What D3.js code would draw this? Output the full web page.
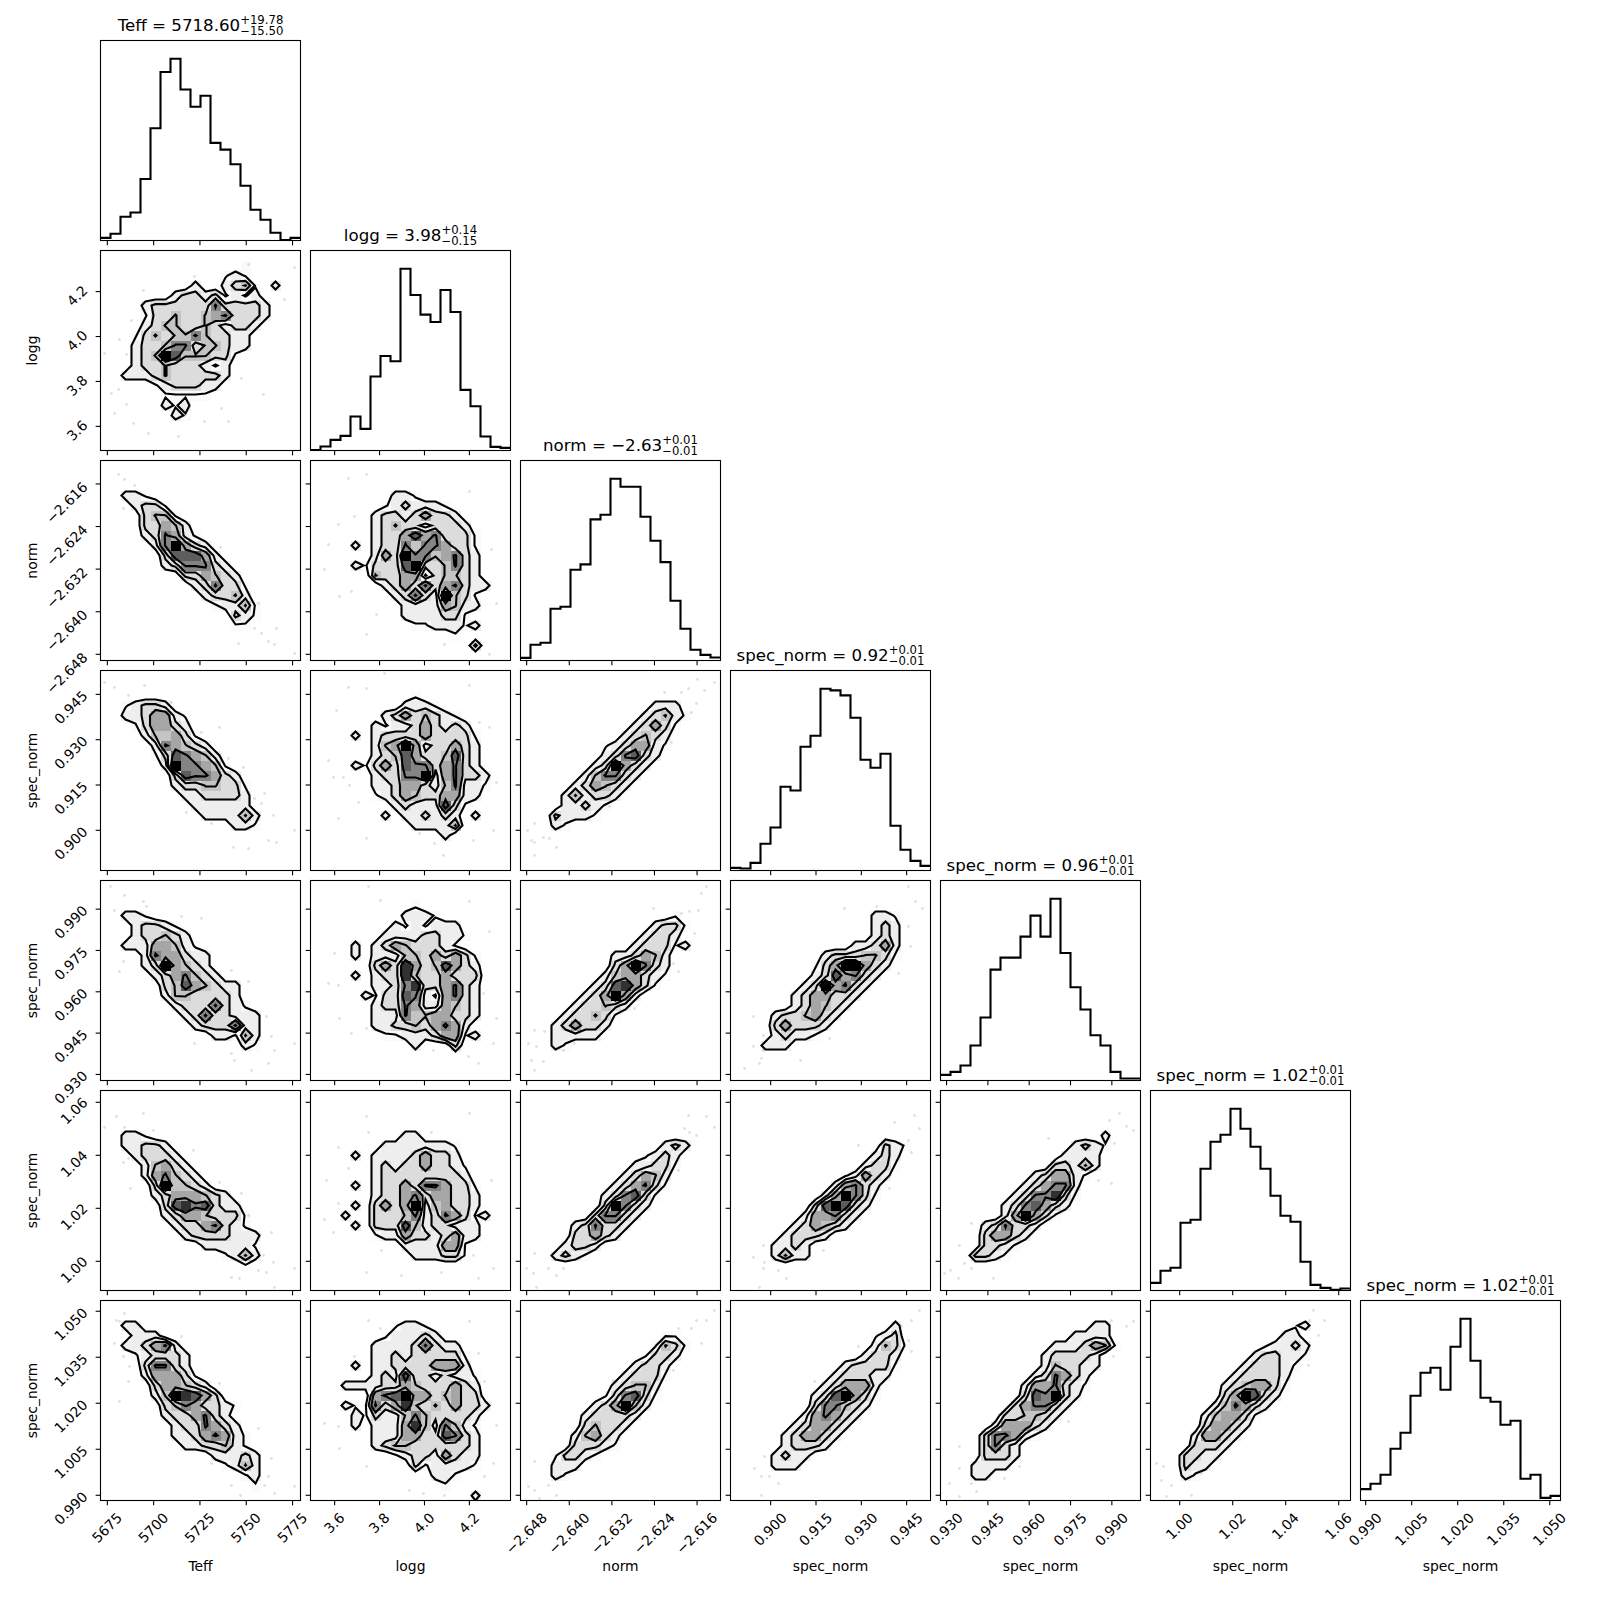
<!DOCTYPE html>
<html><head><meta charset="utf-8">
<script src="https://cdn.jsdelivr.net/npm/d3@7"></script>
<style>html,body{margin:0;background:#fff}svg{display:block}text{font-family:"DejaVu Sans";fill:#000}</style>
</head><body><svg id="c" width="1600" height="1600"></svg>
<script>
const labels=["Teff","logg","norm","spec_norm","spec_norm","spec_norm","spec_norm"];
const titleValues=["5718.60","3.98","−2.63","0.92","0.96","1.02","1.02"];
const titlePlus=["+19.78","+0.14","+0.01","+0.01","+0.01","+0.01","+0.01"];
const titleMinus=["−15.50","−0.15","−0.01","−0.01","−0.01","−0.01","−0.01"];
const ranges=[[5671.3,5779.3],[3.4925,4.383],[-2.64916,-2.6116],[0.8867,0.9529],[0.9278,1.0004],[0.98898,1.06445],[0.9883,1.0535]];
const tickValues=[[5675,5700,5725,5750,5775],[3.6,3.8,4.0,4.2],[-2.648,-2.64,-2.632,-2.624,-2.616],[0.9,0.915,0.93,0.945],[0.93,0.945,0.96,0.975,0.99],[1.0,1.02,1.04,1.06],[0.99,1.005,1.02,1.035,1.05]];
const tickLabels=[["5675","5700","5725","5750","5775"],["3.6","3.8","4.0","4.2"],["−2.648","−2.640","−2.632","−2.624","−2.616"],["0.900","0.915","0.930","0.945"],["0.930","0.945","0.960","0.975","0.990"],["1.00","1.02","1.04","1.06"],["0.990","1.005","1.020","1.035","1.050"]];
const hist0=[8,20,71,84,184,336,504,544,452,400,433,292,272,228,164,92,62,23,1,8];
const hist1=[1,12,32,44,102,65,222,284,268,546,467,408,386,482,416,182,133,42,11,8];
const hist2=[8,47,53,155,161,272,288,423,437,545,521,521,431,359,295,179,95,32,17,9];
const hist3=[8,6,23,80,129,251,240,371,404,545,540,525,458,332,308,350,134,62,29,14];
const hist4=[17,26,45,105,189,333,369,369,432,495,432,546,383,280,213,136,105,26,6,6];
const hist5=[23,59,68,203,212,365,446,467,545,485,431,365,284,224,206,86,17,8,2,6];
const hist6=[34,50,77,155,203,314,383,398,332,461,545,419,308,296,227,239,65,77,8,14];
const hists=[hist0,hist1,hist2,hist3,hist4,hist5,hist6];
// 2D histograms: one string per row from the top, "startColumn:digits" with counts on a 0-9 scale
const P10=["","14:1","12:121","9:200234102","7:233231212","4:2333333633332","4:1334334563332","4:234433432332","3:134344643322","3:233466344322","3:23497444331","3:2334333212","2:22234333332","5:1233322","6:11111","6:2120","7:21"];
const P20=["","","","2:221","3:2331","4:3441","4:33542","4:236521","5:269532","6:377752","6:2366632","8:335432","9:236331","10:23342","11:12241","13:321","13:11"];
const P21=["","","","8:221","7:1232221","6:233235332","6:2343323332","6:23357563331","4:2023364665331","6:25396645632","4:2133379334632","6:43355134432","7:23536356322","8:236329431","9:22225422","9:2222331","10:1122212","14:1","16:3"];
const P30=["","","","2:12332","2:2235521","3:135532","4:244531","5:265432","5:1376542","6:2966541","7:3766532","7:23344331","8:2233332","9:222222","10:222242","13:221"];
const P31=["","","10:1","9:2221","7:23534321","6:2122353232","4:2023333533331","6:24595233532","6:23475334732","4:2135376635632","6:233669256332","6:223553246221","6:12354335522","8:23222731","7:2022323202","10:22224","13:2"];
const P40=["","","","2:221","3:23321","3:233432","2:22255421","4:2655322","4:2395432","5:2356432","6:34754322","6:24433332","7:23336321","8:23633222","9:2333622","11:22142","14:21"];
const P41=["","","10:1","9:2221","8:2121222","7:222233221","4:20235433321","4:2022244353531","6:35385347532","4:2023384335333","6:22368335632","5:213376215632","6:23365225432","6:22264455332","6:2233435652","7:1122235512","10:20003"];
const P50=["","","","","2:221","2:22332","3:23332","4:24532","4:256432","5:394432","5:23555432","6:37867322","6:235543331","7:23356321","8:23333222","10:222221","12:1242","14:1"];
const P51=["","","","","9:22","7:22222221","4:20222235332","6:2323353321","6:2333333332","4:2023353665331","6:23356355332","4:2035359245332","3:200333462365312","4:2033374233222","6:12253323522","9:2222551","10:222331"];
const P60=["","","2:22","3:222","2:223562","3:123332","4:36632","4:255531","5:355432","5:2498753","6:34653321","6:2335632","7:2336532","7:22356521","8:2233421","11:22232","12:1242","14:12","15:1"];
const P61=["","","8:1221","7:122232","6:222236322","6:2232333331","4:202233335552","6:23273323221","3:22223354333532","6:56795534533","3:211635843435332","4:2132246433332","4:2022258426421","6:22255337632","6:23443333332","8:123325322","10:3122221","12:221","13:1","16:2"];
const P32=["","","","13:222","12:23421","11:23531","10:23432","8:1235521","8:236732","7:239532","6:246632","5:235432","4:242332","4:22321","3:32221","3:21"];
const P42=["","","","15:1","13:2331","12:2332","11:233312","9:223542","9:359632","8:2455321","7:2378531","6:235952","5:233432","4:233431","3:235332","3:22222","3:21"];
const P43=["","","","14:221","14:232","14:232","12:22352","9:23334431","8:13599532","8:2375632","7:2395632","6:2355332","6:235432","4:2334532","4:353332","4:23221","3:222"];
const P52=["","","","","","14:232","12:1232","11:22331","10:23542","9:235631","8:236731","8:39632","7:36632","5:236332","5:33532","4:2332","3:2321"];
const P53=["","","","","","15:321","14:232","13:2331","11:12532","10:25632","9:259631","8:379732","7:255632","6:235432","5:23332","4:2232","4:2422"];
const P54=["","","","","16:2","13:2321","12:2222","11:33242","9:235521","8:235662","7:2366831","6:2367532","6:259531","4:236332","4:35532","4:3321","3:3321"];
const P62=["","","","14:11","13:1431","12:1332","11:2332","10:23331","9:23442","8:136731","7:235942","6:233332","6:34332","5:24532","5:33321","3:13321","3:222","3:21"];
const P63=["","","16:2","14:123","14:2431","13:2332","11:233331","10:233322","9:235552","8:2379531","8:366432","7:256532","6:235532","5:235532","5:23332","4:2322","4:222"];
const P64=["","","15:22","13:2222","11:2223541","10:233332","10:243322","9:236532","8:2556321","8:376932","7:356632","6:334432","5:255532","4:366521","4:3632","4:3332","3:2222","3:22"];
const P65=["","","14:12","13:22","11:12232","10:233221","9:233321","8:233332","7:2345531","7:359732","6:246532","5:245531","5:35532","4:25532","4:3332","3:3322","3:322","3:21"];
// samples outside the contours, in bin units: x,y,x,y,...
const S10=[.4,10.3,1.9,8.9,2.6,10.4,3.1,7,1.1,14.3,1.8,13.9,4.6,13,2.6,15.4,1.4,16.3,3.3,17.3,4.8,18.3,10.4,17.1,12.8,17.1,14.1,12.8,16.3,14.4,19.4,1.7,14.8,1.4,18.4,4.9,9.4,2.6,4.3,4,12.1,15.8,7.8,18.6];
const S20=[1.8,1.4,2.4,1.9,2.8,4.1,2.3,4.8,15.4,16.8,16.1,17.3,16.8,18.1,17.4,18.4,13.8,18.3,17.6,16.8,19.4,19.3,15.8,14.3,3.4,2.5,12,8.7];
const S21=[1.8,8.4,2.8,6.4,3.8,1.8,5.6,1.4,1.4,10.9,2.9,13.6,4.1,13.1,5.6,17.4,18.1,8.9,18.6,14.3,13.4,18.4,4.4,5.6,15.9,3.1,17.9,19.4,6.6,15.4];
const S30=[.4,1.2,1.4,1.7,4.4,1.5,2.8,2.5,7.1,3.2,10.1,6.2,11.9,5.7,12.8,8.8,14.3,9.7,15.4,12.8,16.1,13.3,17.3,14.5,16.8,17,17.6,17.2,19.4,16,13.3,17.7,11.1,15.3,8.6,14.2,16.4,12.3,14.8,17.8];
const S31=[3.8,1.7,5.6,1.8,7.4,.3,2.6,4,1.8,9,2.3,10.7,3.3,10.7,3.9,11.5,2.8,14.8,4.8,13.2,5.6,16.8,10.9,16.3,13.3,18.5,16.3,17,18.3,16,16.9,5.2,17.9,5.7,15.9,1.5,12.4,17.3,18.6,11.2];
const S40=[1,.6,1.4,3,2.4,1.5,4.3,2.1,4.6,2.6,2.3,8.1,1.9,9.1,10.1,3.8,8.1,3.6,13.1,9,14.8,10.1,16.6,13.6,17.1,15.6,19.4,16.3,13.1,17.3,17.4,17,15.1,19,16.8,18.3,13.4,18,9.4,16.3];
const S41=[5.8,.6,7,2,2.4,7.3,1.8,10.3,2.8,10.5,2.9,13.8,4.1,15.3,5.6,14.8,17.9,5.1,17.3,11.3,18.6,13.8,15.8,17.6,16.8,18.3,12.3,17,18.3,16.3,15.9,2.1];
const S50=[.4,3.7,1.6,2.6,2.4,3.7,4.3,2.3,5.3,4,2.8,6.8,2.3,7.2,3,9.8,9.3,6,11.9,9.2,14.1,10.3,14.8,12.5,17.1,14.2,16.3,16.5,17.3,17.2,15.8,18,16.6,18.2,19.4,17.8,13.1,18.7,13.9,18.8,17.4,19.7];
const S51=[5.6,2.6,5.8,4.2,2.8,5.7,3.8,7.8,1.6,9,2.8,11.3,1.4,12.9,2.3,14.2,7.1,16,5.6,18.2,9.1,18.5,13.1,18.2,16.3,16.5,18.3,17.8,18.1,9,15.9,2.3,12.1,4.2,16.8,18.8];
const S60=[1.6,2,2.4,1.3,1.9,2.1,1.4,4.3,2.3,5.6,2.9,6.6,2.8,8.1,1.9,10.1,8.1,3.6,11.9,8.3,15.8,12.8,17.1,15.8,16.8,17.6,16.4,18.5,19.4,18.6,17.4,19.3,13.1,18.5,11.1,16.3,14,19.5];
const S61=[5.8,2,7,2.8,4.4,5.6,1.4,12.3,2.8,12.6,2.9,14.8,5.6,16.6,9.9,19,16.8,5.3,18.6,12.5,18.3,16.3,17.4,17.6,13.4,19.5,15.9,2.1,17.4,8.1,11.3,19.3];
const S32=[.7,16,1.1,17,1.4,17.2,2.3,16.7,2.9,16.8,1.4,15.3,3.6,17.7,1.4,18.5,16.1,2.2,16.8,1.8,17.7,.9,18.4,2,19.4,1.2,17.1,4.2,15.1,7.2,8.9,13.6,14.4,2.2,17.6,3.3];
const S42=[1.4,15,2.4,15.1,.8,16.3,1.6,16.6,2.3,18.1,1.1,18,4.3,17,5.4,16.3,1.4,19,16.1,3.3,16.9,3.1,17.8,3,18.6,.6,18.1,1.3,13.3,2.8,17.4,5.3,15.3,8.3,15.8,9.1,11.4,12.8];
const S43=[3.3,15.5,2.3,13.6,3.3,17,3.1,17.8,2.9,18.3,1.4,18.8,7,18,9.9,15.8,17.8,.6,18.5,2.1,19.2,2.8,17.8,4.6,18,6.6,16.8,9.3,11.4,2.8,2.3,16.6,14.6,2.6];
const S52=[1.4,16.3,.6,17.8,1.3,18.3,2.8,17.8,3.6,18.5,1.6,19.7,4.3,17.8,16.8,2.5,18.6,2.6,16.9,4.2,17.6,4.5,19.4,3.7,16.4,3.8,15.8,8,8.6,9.9,6.6,15.8];
const S53=[2.3,16.7,3.3,15.5,3.3,17.8,2.9,19.7,4.8,18,5.6,18.8,18.4,2.5,16.4,3.2,18.9,3.8,17.8,5,18.1,6.2,12.8,5.5,15.9,9.8,9.3,16,3.4,17.2];
const S54=[.4,18.3,1,18,1.9,15.5,3.1,13.3,3.1,17.8,3.6,17,5.3,18.8,1.8,18.8,2.4,17.3,17.9,2.3,16.9,3,18.6,3.6,19.3,4,17.4,5.3,17.1,9.3,10.8,4.8,15.8,9];
const S62=[1.4,16.1,.8,18.6,1.4,19,2.8,18.5,3.6,19.5,1.9,19.8,4.3,17.5,15.8,2.8,17.6,2,19.4,1,18.6,2,17.1,2.8,18.1,4.3,15.3,7,9.3,8,5.8,12.6];
const S63=[2.4,16.8,3.4,15.6,3.1,17.6,3.1,19.5,3.9,17.6,4.8,18.3,18.9,1,18.1,2,17.1,2.6,17.8,4,18.1,5.1,16.6,6.3,12.8,4.6,8.4,8.1,13.8,10];
const S64=[1.9,14.6,1.9,16.8,.9,18.3,1.9,19.6,3.1,18.3,3.6,19.1,6.4,17.8,17.1,2,18.6,2.6,19.3,2.1,17.3,5.6,12.8,12.1,7.9,16.6];
const S65=[.6,16.3,1.3,16.6,2.1,18.5,1.1,18,1.6,19.6,4.1,19.5,5.1,17.3,15.9,2,17.4,2,16.3,1,16.8,3.5,15.8,6.5,5.8,11.6,13.1,8.1];
const grids={"1,0":[P10,S10],"2,0":[P20,S20],"2,1":[P21,S21],"3,0":[P30,S30],"3,1":[P31,S31],"3,2":[P32,S32],"4,0":[P40,S40],"4,1":[P41,S41],"4,2":[P42,S42],"4,3":[P43,S43],"5,0":[P50,S50],"5,1":[P51,S51],"5,2":[P52,S52],"5,3":[P53,S53],"5,4":[P54,S54],"6,0":[P60,S60],"6,1":[P61,S61],"6,2":[P62,S62],"6,3":[P63,S63],"6,4":[P64,S64],"6,5":[P65,S65]};
const contourLevels=[1.2,2.6,3.9,5.8];
const N=20,K=7,SIZE=200,STEP=210,X0=100.5,Y0=40.5,LW=2.1,FW=1.1,TICK=4.86,FS=13.9;

const svg=d3.select("#c");
svg.append("rect").attr("width",1600).attr("height",1600).attr("fill","#fff");
const defs=svg.append("defs");
const xS=ranges.map((r,j)=>d3.scaleLinear().domain(r).range([X0+j*STEP,X0+j*STEP+SIZE]));
const yS=ranges.map((r,i)=>d3.scaleLinear().domain(r).range([Y0+i*STEP+SIZE,Y0+i*STEP]));

function parseGrid(rows){
  const v=new Array(N*N).fill(0);
  rows.forEach((s,r)=>{ if(!s) return; const [c,d]=s.split(":"); [...d].forEach((ch,k)=>{v[r*N+(+c)+k]=+ch;}); });
  return v;
}
function binX(j,g){const r=ranges[j];return r[0]+g*(r[1]-r[0])/N;}
function binY(i,g){const r=ranges[i];return r[1]-g*(r[1]-r[0])/N;}

for(let i=0;i<K;i++)for(let j=0;j<=i;j++){
  const x=xS[j],y=yS[i],g=svg.append("g");
  const left=x.range()[0],top=y.range()[1],id=`clip${i}_${j}`;
  defs.append("clipPath").attr("id",id).append("rect").attr("x",left).attr("y",top).attr("width",SIZE).attr("height",SIZE);
  const body=g.append("g").attr("clip-path",`url(#${id})`);
  if(i===j){
    const h=hists[i],hy=d3.scaleLinear().domain([0,1.1*d3.max(h)]).range([top+SIZE,top]);
    const steps=h.map((v,k)=>[binX(j,k),v]).concat([[binX(j,N),h[N-1]]]);
    body.append("path").attr("fill","none").attr("stroke","#000").attr("stroke-width",LW)
      .attr("d",d3.line().x(d=>x(d[0])).y(d=>hy(d[1])).curve(d3.curveStepAfter)(steps));
  }else{
    const [rows,pts]=grids[`${i},${j}`],vals=parseGrid(rows);
    const proj=d3.geoPath(d3.geoTransform({point(a,b){this.stream.point(x(binX(j,a)),y(binY(i,b)));}}));
    const cs=d3.contours().size([N,N]).thresholds(contourLevels)(vals);
    const dots=[];for(let k=0;k<pts.length;k+=2)dots.push([pts[k],pts[k+1]]);
    body.selectAll("circle").data(dots).join("circle").attr("cx",d=>x(binX(j,d[0]))).attr("cy",d=>y(binY(i,d[1]))).attr("r",1.4).attr("fill","#000").attr("opacity",.12);
    body.append("path").attr("d",proj(cs[0])).attr("fill","#fff");
    const cells=[];vals.forEach((v,k)=>{if(v>0)cells.push({c:k%N,r:Math.floor(k/N),v});});
    body.append("g").attr("shape-rendering","crispEdges").selectAll("rect").data(cells).join("rect")
      .attr("x",d=>x(binX(j,d.c))).attr("y",d=>y(binY(i,d.r))).attr("width",SIZE/N).attr("height",SIZE/N)
      .attr("fill","#000").attr("fill-opacity",d=>Math.pow(d.v/9,1.8));
    body.selectAll("path.ct").data(cs).join("path").attr("class","ct").attr("d",proj).attr("fill","none")
      .attr("stroke","#000").attr("stroke-width",LW).attr("stroke-linejoin","miter");
  }
  g.append("rect").attr("x",left).attr("y",top).attr("width",SIZE).attr("height",SIZE).attr("fill","none").attr("stroke","#000").attr("stroke-width",FW);
  const ax=g.append("g").attr("transform",`translate(0,${top+SIZE})`).call(d3.axisBottom(x).tickValues(tickValues[j]).tickSize(TICK).tickFormat("").offset(0));
  ax.select(".domain").remove();ax.selectAll("line").attr("stroke-width",FW);
  if(i!==j){
    const ay=g.append("g").attr("transform",`translate(${left},0)`).call(d3.axisLeft(y).tickValues(tickValues[i]).tickSize(TICK).tickFormat("").offset(0));
    ay.select(".domain").remove();ay.selectAll("line").attr("stroke-width",FW);
  }
}
function rotated(cx,cy,s){return svg.append("text").attr("transform",`translate(${cx},${cy}) rotate(-45)`).attr("text-anchor","middle").attr("dy",".365em").attr("font-size",FS).text(s);}
function width(s,fs){const t=svg.append("text").attr("font-size",fs).text(s),w=t.node().getComputedTextLength();t.remove();return w;}
for(let p=0;p<K;p++){
  tickValues[p].forEach((v,k)=>{const s=tickLabels[p][k],w=width(s,FS);rotated(xS[p](v)-.5,1500.5+9.7+(w+14)*.3535,s);});
  svg.append("text").attr("x",X0+p*STEP+SIZE/2).attr("y",1571).attr("text-anchor","middle").attr("font-size",FS).text(labels[p]);
  if(p>0){
    tickValues[p].forEach((v,k)=>{const s=tickLabels[p][k],w=width(s,FS);rotated(X0-9.7-1-(w+14)*.3535,yS[p](v)+.5*w-7,s);});
    const cy=Y0+p*STEP+SIZE/2;
    svg.append("text").attr("transform",`translate(37,${cy}) rotate(-90)`).attr("text-anchor","middle").attr("font-size",FS).text(labels[p]);
  }
  const main=`${labels[p]} = ${titleValues[p]}`,cx=X0+p*STEP+SIZE/2,top=Y0+p*STEP,fs=16.67,ss=11.67;
  const mw=width(main,fs),sw=Math.max(width(titlePlus[p],ss),width(titleMinus[p],ss)),x0=cx-(mw+sw)/2;
  svg.append("text").attr("x",x0).attr("y",top-10).attr("font-size",fs).text(main);
  svg.append("text").attr("x",x0+mw).attr("y",top-16.5).attr("font-size",ss).text(titlePlus[p]);
  svg.append("text").attr("x",x0+mw).attr("y",top-6).attr("font-size",ss).text(titleMinus[p]);
}
</script></body></html>
